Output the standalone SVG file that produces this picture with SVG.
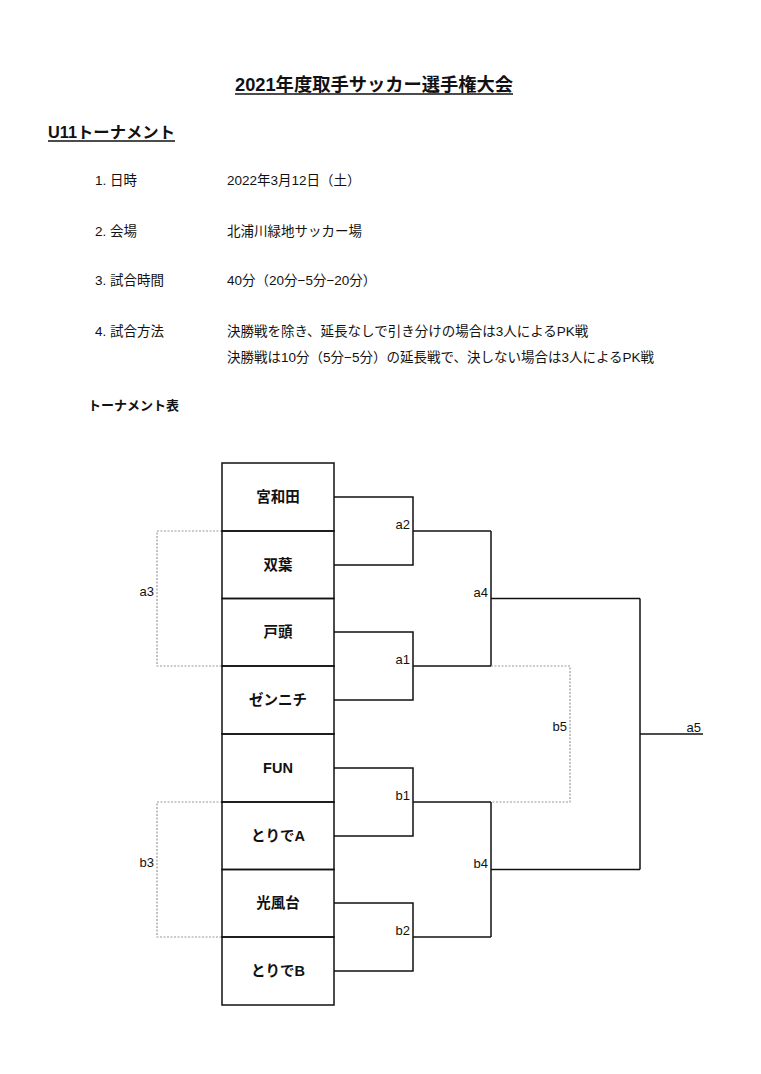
<svg xmlns="http://www.w3.org/2000/svg" width="761" height="1074" viewBox="0 0 761 1074">
<style>
text{font-family:"Liberation Sans","Noto Sans CJK JP",sans-serif;fill:#111}
.h{font-weight:bold}
.b{font-size:13.5px}
.team{font-size:14.5px;font-weight:bold;text-anchor:middle}
.lbl{font-size:13px;text-anchor:end}
.ln{fill:none;stroke:#111;stroke-width:1.5}
.dash{fill:none;stroke:#999;stroke-width:1.2;stroke-dasharray:2 1.5}
.ul{stroke:#111;stroke-width:1.3}
</style>
<rect width="761" height="1074" fill="#fff"/>
<g id="header">
<text class="h" x="374" y="91" font-size="18" text-anchor="middle" textLength="278" lengthAdjust="spacingAndGlyphs">2021年度取手サッカー選手権大会</text>
<line class="ul" x1="235" y1="94" x2="513" y2="94"/>
<text class="h" x="48" y="138" font-size="16" textLength="127" lengthAdjust="spacingAndGlyphs">U11トーナメント</text>
<line class="ul" x1="48" y1="141" x2="175" y2="141"/>
<text class="b" x="95" y="185">1. 日時</text>
<text class="b" x="227" y="185">2022年3月12日（土）</text>
<text class="b" x="95" y="236">2. 会場</text>
<text class="b" x="227" y="236">北浦川緑地サッカー場</text>
<text class="b" x="95" y="285">3. 試合時間</text>
<text class="b" x="227" y="285">40分（20分−5分−20分）</text>
<text class="b" x="95" y="336">4. 試合方法</text>
<text class="b" x="227" y="336">決勝戦を除き、延長なしで引き分けの場合は3人によるPK戦</text>
<text class="b" x="227" y="362">決勝戦は10分（5分−5分）の延長戦で、決しない場合は3人によるPK戦</text>
<text class="h" x="88" y="410" font-size="13">トーナメント表</text>
</g>
<g id="connectors">
<path class="ln" d="M334,497 H413 V565 H334"/>
<path class="ln" d="M413,531 H491"/>
<path class="ln" d="M334,632 H413 V700 H334"/>
<path class="ln" d="M413,666 H491"/>
<path class="ln" d="M491,531 V666"/>
<path class="ln" d="M491,598.5 H640"/>
<path class="ln" d="M334,768 H413 V836 H334"/>
<path class="ln" d="M413,802 H491"/>
<path class="ln" d="M334,903 H413 V971 H334"/>
<path class="ln" d="M413,937 H491"/>
<path class="ln" d="M491,802 V937"/>
<path class="ln" d="M491,869.5 H640"/>
<path class="ln" d="M640,598.5 V869.5"/>
<path class="ln" d="M640,734 H703"/>
<path class="dash" d="M491,666 H570 V802 H491"/>
<path class="dash" d="M222,531 H157 V666 H222"/>
<path class="dash" d="M222,802 H157 V937 H222"/>
</g>
<g id="match-labels">
<text class="lbl" x="410" y="529">a2</text>
<text class="lbl" x="410" y="664">a1</text>
<text class="lbl" x="488" y="597">a4</text>
<text class="lbl" x="410" y="800">b1</text>
<text class="lbl" x="410" y="935">b2</text>
<text class="lbl" x="488" y="868">b4</text>
<text class="lbl" x="567" y="731">b5</text>
<text class="lbl" x="701" y="732">a5</text>
<text class="lbl" x="154" y="596">a3</text>
<text class="lbl" x="154" y="867">b3</text>
</g>
<g id="team-miyawada"><rect class="ln" x="222" y="463" width="112" height="68"/><text class="team" x="278" y="502">宮和田</text></g>
<g id="team-futaba"><rect class="ln" x="222" y="531" width="112" height="67.5"/><text class="team" x="278" y="570">双葉</text></g>
<g id="team-togashira"><rect class="ln" x="222" y="598.5" width="112" height="67.5"/><text class="team" x="278" y="637">戸頭</text></g>
<g id="team-zennichi"><rect class="ln" x="222" y="666" width="112" height="68"/><text class="team" x="278" y="705">ゼンニチ</text></g>
<g id="team-fun"><rect class="ln" x="222" y="734" width="112" height="68"/><text class="team" x="278" y="773">FUN</text></g>
<g id="team-toride-a"><rect class="ln" x="222" y="802" width="112" height="67.5"/><text class="team" x="278" y="841">とりでA</text></g>
<g id="team-kofudai"><rect class="ln" x="222" y="869.5" width="112" height="67.5"/><text class="team" x="278" y="908">光風台</text></g>
<g id="team-toride-b"><rect class="ln" x="222" y="937" width="112" height="68"/><text class="team" x="278" y="976">とりでB</text></g>
</svg>
